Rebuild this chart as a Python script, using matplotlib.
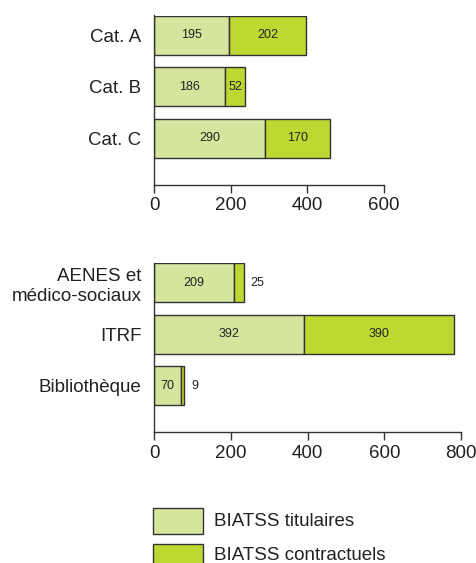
import matplotlib
matplotlib.use("Agg")
import matplotlib.pyplot as plt
from matplotlib.patches import Rectangle

plt.rcParams['font.family'] = ['Liberation Sans', 'DejaVu Sans']

# Staff by category
cat_labels = ["Cat. A", "Cat. B", "Cat. C"]
cat_titulaires = [195, 186, 290]
cat_contractuels = [202, 52, 170]
cat_ticks = [0, 200, 400, 600]

# Staff by branch
branch_labels = ["AENES et\nmédico-sociaux", "ITRF", "Bibliothèque"]
branch_titulaires = [209, 392, 70]
branch_contractuels = [25, 390, 9]
branch_ticks = [0, 200, 400, 600, 800]

series_names = ["BIATSS titulaires", "BIATSS contractuels"]

LIGHT = "#d5e59e"
DARK = "#bfd731"
EDGE = "#333333"
TEXT = "#222222"
BIG = 13.5
SMALL = 9

W, H = 477, 563
fig = plt.figure(figsize=(W / 100, H / 100), dpi=100)


def px_axes(left, top, right, bottom):
    return fig.add_axes([left / W, 1 - bottom / H, (right - left) / W, (bottom - top) / H])


def draw_panel(ax, labels, tit, con, ticks, px_per_unit):
    y = list(range(len(labels)))
    h = 0.76
    ax.barh(y, tit, height=h, color=LIGHT, edgecolor=EDGE, linewidth=1.0)
    ax.barh(y, con, left=tit, height=h, color=DARK, edgecolor=EDGE, linewidth=1.0)
    for yi, a, b in zip(y, tit, con):
        ax.text(a / 2, yi, str(a), ha="center", va="center", fontsize=SMALL, color=TEXT)
        if b * px_per_unit >= 18:
            ax.text(a + b / 2, yi, str(b), ha="center", va="center", fontsize=SMALL, color=TEXT)
        else:
            ax.text(a + b + 7 / px_per_unit, yi, str(b), ha="left", va="center",
                    fontsize=SMALL, color=TEXT)
    ax.set_xlim(ticks[0], ticks[-1])
    ax.set_ylim(len(labels) - 1 + 0.9, -0.38)
    ax.set_xticks(ticks)
    ax.set_yticks(y)
    ax.set_yticklabels(labels, fontsize=BIG, color=TEXT, linespacing=1.3)
    ax.tick_params(axis="y", length=0, pad=9)
    ax.tick_params(axis="x", direction="out", length=6, width=1, color=EDGE,
                   labelsize=BIG, labelcolor=TEXT, pad=3)
    for s in ("top", "right"):
        ax.spines[s].set_visible(False)
    for s in ("left", "bottom"):
        ax.spines[s].set_color(EDGE)
        ax.spines[s].set_linewidth(1.0)


ax1 = px_axes(154, 15.5, 384, 185)
draw_panel(ax1, cat_labels, cat_titulaires, cat_contractuels, cat_ticks, 230 / 600)

ax2 = px_axes(154, 263, 461, 432)
draw_panel(ax2, branch_labels, branch_titulaires, branch_contractuels, branch_ticks, 307 / 800)

# Legend drawn in pixel coordinates of the figure
for i, (name, col) in enumerate(zip(series_names, [LIGHT, DARK])):
    top = 508 + i * 35.5
    fig.add_artist(Rectangle((153 / W, 1 - (top + 26) / H), 50 / W, 26 / H,
                             transform=fig.transFigure, facecolor=col,
                             edgecolor=EDGE, linewidth=1.0))
    fig.text(214 / W, 1 - (526 + i * 34) / H, name, ha="left", va="baseline",
             fontsize=BIG, color=TEXT)

fig.savefig("out.png", dpi=100)
